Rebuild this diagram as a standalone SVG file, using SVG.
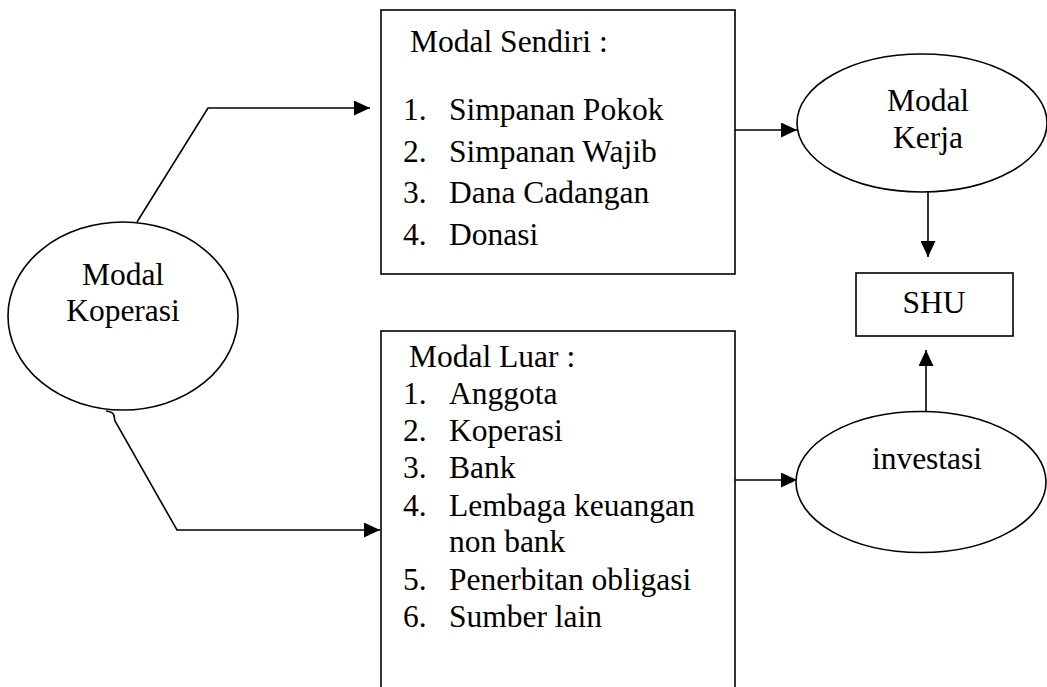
<svg xmlns="http://www.w3.org/2000/svg" width="1047" height="687" viewBox="0 0 1047 687">
<style>
.shape{fill:#fff;stroke:#000;stroke-width:1.6}
.line{fill:none;stroke:#000;stroke-width:1.6}
text{font-family:"Liberation Serif","Times New Roman",serif;font-size:31.5px;fill:#000}
.c{text-anchor:middle}
</style>
<defs>
<marker id="ah" markerWidth="16" markerHeight="15" refX="16" refY="7.5" orient="auto" markerUnits="userSpaceOnUse">
<path d="M0,0 L16,7.5 L0,15 Z" fill="#000"/>
</marker>
</defs>
<rect width="1047" height="687" fill="#fff"/>
<g id="connectors">
<path class="line" d="M137,222 L208,108 L370,108" marker-end="url(#ah)"/>
<path class="line" d="M106,411 Q114,412 114,416 L115,421 L177,530 L380,530" marker-end="url(#ah)"/>
<path class="line" d="M735,130 L797,130" marker-end="url(#ah)"/>
<path class="line" d="M735,480 L797,480" marker-end="url(#ah)"/>
<path class="line" d="M928,192 L928,257" marker-end="url(#ah)"/>
<path class="line" d="M926,412 L926,350" marker-end="url(#ah)"/>
</g>
<g id="modal-koperasi">
<ellipse class="shape" cx="123" cy="316" rx="115" ry="94"/>
<text class="c" x="123" y="285">Modal</text>
<text class="c" x="123" y="321">Koperasi</text>
</g>
<g id="modal-sendiri">
<rect class="shape" x="381" y="10" width="354" height="264"/>
<text x="410" y="52">Modal Sendiri :</text>
<text x="403" y="120">1.</text><text x="449" y="120">Simpanan Pokok</text>
<text x="403" y="162">2.</text><text x="449" y="162">Simpanan Wajib</text>
<text x="403" y="203">3.</text><text x="449" y="203">Dana Cadangan</text>
<text x="403" y="245">4.</text><text x="449" y="245">Donasi</text>
</g>
<g id="modal-luar">
<rect class="shape" x="381" y="331" width="354" height="370"/>
<text x="409" y="367">Modal Luar :</text>
<text x="403" y="404">1.</text><text x="449" y="404">Anggota</text>
<text x="403" y="441">2.</text><text x="449" y="441">Koperasi</text>
<text x="403" y="478">3.</text><text x="449" y="478">Bank</text>
<text x="403" y="516">4.</text><text x="449" y="516">Lembaga keuangan</text>
<text x="449" y="552">non bank</text>
<text x="403" y="590">5.</text><text x="449" y="590">Penerbitan obligasi</text>
<text x="403" y="627">6.</text><text x="449" y="627">Sumber lain</text>
</g>
<g id="modal-kerja">
<ellipse class="shape" cx="922" cy="123" rx="125" ry="69"/>
<text class="c" x="928" y="111">Modal</text>
<text class="c" x="928" y="148">Kerja</text>
</g>
<g id="shu">
<rect class="shape" x="856" y="273" width="157" height="63"/>
<text class="c" x="934" y="313">SHU</text>
</g>
<g id="investasi">
<ellipse class="shape" cx="921" cy="482" rx="125" ry="70.5"/>
<text class="c" x="927" y="469">investasi</text>
</g>
</svg>
